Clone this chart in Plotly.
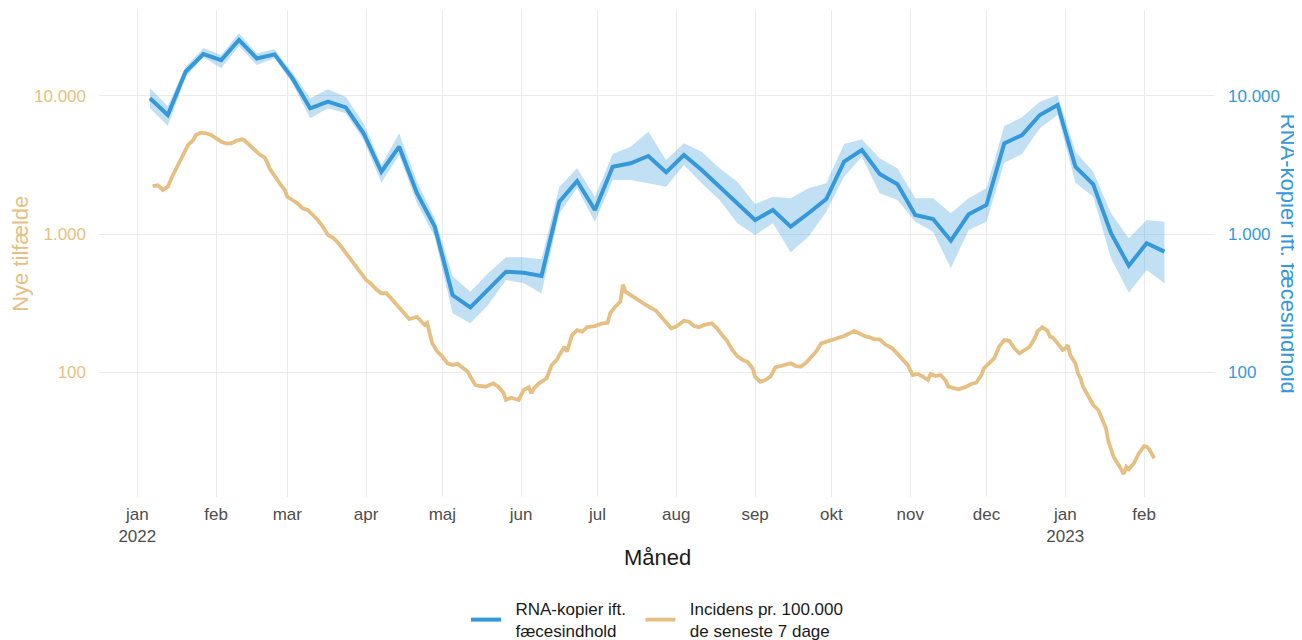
import plotly.graph_objects as go
import pandas as pd

# ---- Data: RNA copies relative to faecal content (weekly) ----
rna_start = "2022-01-06"
rna_values = [9580, 7250, 14900, 20000, 18100, 25300, 18600, 19900, 13400, 8110,
              9050, 8240, 5350, 2820, 4280, 1970, 1130, 362, 295, 398,
              534, 525, 497, 1712, 2416, 1491, 3066, 3245, 3664, 2793,
              3727, 2902, 2198, 1667, 1262, 1491, 1129, 1412, 1791, 3333,
              4050, 2716, 2288, 1372, 1283, 895, 1388, 1621, 4525, 5196,
              7250, 8570, 3066, 2288, 1012, 590, 857, 745]
rna_upper = [11310, 8425, 16210, 22010, 19700, 28270, 20260, 21650, 14670, 9580,
             11130, 9835, 6316, 3154, 5348, 2389, 1299, 497, 383, 520,
             679, 679, 656, 2198, 2987, 1860, 3789, 4278, 5492, 3429,
             4528, 3937, 2987, 2389, 1648, 1860, 1812, 2140, 2326, 4476,
             4838, 3527, 2987, 1812, 1812, 1411, 1812, 2140, 6038, 6980,
             9048, 10120, 3937, 2821, 1411, 931, 1263, 1227]
rna_lower = [8110, 6038, 13590, 18950, 15780, 22880, 16670, 18640, 12290, 6864,
             8110, 7459, 4783, 2349, 3726, 1667, 956, 267, 226, 307,
             465, 440, 373, 1411, 2140, 1227, 2458, 2458, 2326, 2198,
             3154, 2326, 1762, 1195, 984, 1195, 737, 956, 1450, 2597,
             3622, 1970, 1762, 1227, 1039, 565, 1069, 1227, 3279, 3789,
             5812, 7252, 2349, 1860, 667, 376, 549, 440]
rna_dates = pd.date_range(rna_start, periods=len(rna_values), freq="7D")

# ---- Data: incidence per 100.000 last 7 days ----
inc_dates = [
    "2022-01-07", "2022-01-09", "2022-01-10", "2022-01-11", "2022-01-13", "2022-01-14",
    "2022-01-15", "2022-01-17", "2022-01-19", "2022-01-21", "2022-01-23", "2022-01-24",
    "2022-01-26", "2022-01-28", "2022-01-30", "2022-02-01", "2022-02-03", "2022-02-05",
    "2022-02-07", "2022-02-09", "2022-02-11", "2022-02-12", "2022-02-14", "2022-02-16",
    "2022-02-18", "2022-02-20", "2022-02-21", "2022-02-22", "2022-02-24", "2022-02-26",
    "2022-02-28", "2022-03-01", "2022-03-03", "2022-03-05", "2022-03-07", "2022-03-09",
    "2022-03-11", "2022-03-13", "2022-03-15", "2022-03-17", "2022-03-19", "2022-03-20",
    "2022-03-22", "2022-03-24", "2022-03-26", "2022-03-28", "2022-03-30", "2022-04-01",
    "2022-04-03", "2022-04-05", "2022-04-07", "2022-04-09", "2022-04-10", "2022-04-12",
    "2022-04-14", "2022-04-16", "2022-04-17", "2022-04-18", "2022-04-21", "2022-04-22",
    "2022-04-24", "2022-04-25", "2022-04-26", "2022-04-27", "2022-04-29", "2022-05-01",
    "2022-05-03", "2022-05-05", "2022-05-07", "2022-05-09", "2022-05-11", "2022-05-12",
    "2022-05-14", "2022-05-16", "2022-05-18", "2022-05-21", "2022-05-23", "2022-05-25",
    "2022-05-26", "2022-05-28", "2022-05-30", "2022-05-31", "2022-06-02", "2022-06-04",
    "2022-06-05", "2022-06-06", "2022-06-08", "2022-06-11", "2022-06-13", "2022-06-15",
    "2022-06-16", "2022-06-18", "2022-06-19", "2022-06-21", "2022-06-23", "2022-06-25",
    "2022-06-27", "2022-06-30", "2022-07-03", "2022-07-05", "2022-07-06", "2022-07-08",
    "2022-07-10", "2022-07-11", "2022-07-12", "2022-07-14", "2022-07-17", "2022-07-20",
    "2022-07-24", "2022-07-26", "2022-07-28", "2022-07-30", "2022-08-01", "2022-08-04",
    "2022-08-06", "2022-08-08", "2022-08-10", "2022-08-12", "2022-08-15", "2022-08-17",
    "2022-08-19", "2022-08-21", "2022-08-23", "2022-08-25", "2022-08-27", "2022-08-29",
    "2022-08-31", "2022-09-01", "2022-09-03", "2022-09-05", "2022-09-07", "2022-09-09",
    "2022-09-11", "2022-09-13", "2022-09-15", "2022-09-17", "2022-09-19", "2022-09-21",
    "2022-09-23", "2022-09-25", "2022-09-27", "2022-09-29", "2022-10-02", "2022-10-04",
    "2022-10-06", "2022-10-08", "2022-10-10", "2022-10-12", "2022-10-14", "2022-10-16",
    "2022-10-18", "2022-10-20", "2022-10-22", "2022-10-25", "2022-10-27", "2022-10-29",
    "2022-10-31", "2022-11-02", "2022-11-04", "2022-11-06", "2022-11-08", "2022-11-09",
    "2022-11-11", "2022-11-13", "2022-11-15", "2022-11-16", "2022-11-18", "2022-11-20",
    "2022-11-23", "2022-11-25", "2022-11-27", "2022-11-29", "2022-11-30", "2022-12-02",
    "2022-12-04", "2022-12-06", "2022-12-08", "2022-12-10", "2022-12-12", "2022-12-14",
    "2022-12-16", "2022-12-18", "2022-12-20", "2022-12-21", "2022-12-23", "2022-12-25",
    "2022-12-26", "2022-12-27", "2022-12-29", "2022-12-31", "2023-01-01", "2023-01-02",
    "2023-01-03", "2023-01-05", "2023-01-06", "2023-01-07", "2023-01-08", "2023-01-10",
    "2023-01-12", "2023-01-14", "2023-01-15", "2023-01-17", "2023-01-18", "2023-01-19",
    "2023-01-20", "2023-01-22", "2023-01-24", "2023-01-25", "2023-01-26", "2023-01-28",
    "2023-01-30", "2023-02-01", "2023-02-02", "2023-02-03", "2023-02-05",
]
inc_values = [
    2223, 2250, 2178, 2081, 2198, 2458,
    2671, 3154, 3726, 4400, 4783, 5196,
    5400, 5348, 5196, 4920, 4650, 4528,
    4528, 4727, 4838, 4783, 4400, 4047,
    3768, 3586, 3333, 2987, 2597, 2326,
    2081, 1860, 1762, 1667, 1534, 1491,
    1372, 1263, 1129, 984, 940, 905,
    819, 732, 667, 597, 520, 465,
    435, 398, 373, 373, 356, 324,
    298, 267, 260, 243, 252, 239,
    220, 228, 191, 162, 141, 130,
    116, 113, 115, 107, 101, 92.9,
    80.9, 79.6, 78.7, 83.2, 78.7, 71.2,
    63.1, 65.5, 63.8, 63.1, 74.5, 77.9,
    70.5, 76.6, 83.2, 90.5, 113, 123,
    133, 153, 141, 186, 202, 197,
    212, 216, 226, 228, 267, 298,
    324, 430, 383, 362, 333, 307,
    279, 252, 226, 208, 214, 236,
    232, 216, 212, 220, 226, 208,
    186, 169, 145, 131, 123, 119,
    107, 92.9, 85.5, 88, 92.9, 108.7,
    111, 113, 116, 111, 110, 117,
    130, 141, 162, 166, 173, 179,
    183, 191, 199, 191, 183, 179,
    173, 173, 160, 149, 136, 124,
    113, 95.6, 97.2, 92.9, 88, 97.2,
    94, 95.6, 87, 78.7, 76.6, 75.4,
    78.7, 82.3, 84.1, 95.6, 107, 116,
    126, 153, 171, 169, 149, 137,
    145, 153, 176, 197, 212, 200,
    181, 179, 162, 145, 149, 157,
    133, 116, 98.4, 90.5, 78.7, 66.6,
    58, 53.4, 47.8, 39.4, 31.5, 27.4,
    24.5, 21.4, 18.4, 20.7, 19.9, 22,
    26, 29.3, 29, 27.8, 23.9,
]

month_ticks = pd.date_range("2022-01-01", "2023-02-01", freq="MS")
month_labels = ["jan<br>2022", "feb", "mar", "apr", "maj", "jun", "jul", "aug",
                "sep", "okt", "nov", "dec", "jan<br>2023", "feb"]
y_tickvals = [100, 1000, 10000]
y_ticktext = ["100", "1.000", "10.000"]

BLUE = "#3498DB"
TAN = "#E6BF83"
FONT = "Liberation Sans, Arial, sans-serif"
SP = "\u00a0\u00a0"

fig = go.Figure()

# ribbon
fig.add_trace(go.Scatter(x=rna_dates, y=rna_upper, mode="lines", line=dict(width=0),
                         showlegend=False, hoverinfo="skip", yaxis="y2"))
fig.add_trace(go.Scatter(x=rna_dates, y=rna_lower, mode="lines", line=dict(width=0),
                         fill="tonexty", fillcolor="rgba(52,152,219,0.30)",
                         showlegend=False, hoverinfo="skip", yaxis="y2"))
fig.add_trace(go.Scatter(x=rna_dates, y=rna_values, mode="lines",
                         line=dict(color=BLUE, width=4),
                         name=SP + "RNA-kopier ift." + SP + "<br>" + SP + "fæcesindhold",
                         yaxis="y2"))
fig.add_trace(go.Scatter(x=pd.to_datetime(inc_dates), y=inc_values, mode="lines",
                         line=dict(color=TAN, width=3.8),
                         name=SP + "Incidens pr. 100.000<br>" + SP + "de seneste 7 dage",
                         yaxis="y"))

yr = [1.0983, 4.6197]
fig.update_layout(
    width=1294, height=632,
    margin=dict(l=91, r=87, t=2, b=143, autoexpand=False),
    plot_bgcolor="white", paper_bgcolor="white",
    font=dict(family=FONT, size=17, color="#4d4d4d"),
    xaxis=dict(
        type="date", automargin=False,
        range=["2021-12-16 22:30", "2023-02-28 21:30"],
        tickvals=month_ticks, ticktext=month_labels,
        showgrid=True, gridcolor="#EBEBEB", gridwidth=1,
        zeroline=False, showline=False, ticks="",
        ticklabelstandoff=5,
        tickfont=dict(family=FONT, size=17, color="#4d4d4d"),
    ),
    yaxis=dict(
        type="log", range=yr, automargin=False,
        tickvals=y_tickvals, ticktext=y_ticktext,
        showgrid=True, gridcolor="#EBEBEB", gridwidth=1,
        zeroline=False, showline=False, ticks="",
        ticklabelstandoff=12,
        tickfont=dict(family=FONT, size=17, color=TAN),
    ),
    yaxis2=dict(
        type="log", range=yr, overlaying="y", side="right", automargin=False,
        tickvals=y_tickvals, ticktext=y_ticktext,
        showgrid=False, zeroline=False, showline=False, ticks="",
        ticklabelstandoff=12,
        tickfont=dict(family=FONT, size=17, color=BLUE),
    ),
    legend=dict(orientation="h", x=0.5, xanchor="center",
                yref="container", y=0.0775, yanchor="top",
                font=dict(family=FONT, size=17, color="#1a1a1a"),
                traceorder="normal", itemwidth=30),
    showlegend=True,
    annotations=[
        dict(text="Nye tilfælde", xref="paper", yref="paper", x=-0.0705, y=0.5,
             xanchor="center", yanchor="middle", textangle=-90, showarrow=False,
             font=dict(family=FONT, size=22, color=TAN)),
        dict(text="RNA-kopier ift. fæcesindhold", xref="paper", yref="paper", x=1.066, y=0.5,
             xanchor="center", yanchor="middle", textangle=90, showarrow=False,
             font=dict(family=FONT, size=22, color=BLUE)),
        dict(text="Måned", xref="paper", yref="paper", x=0.5, y=-0.125,
             xanchor="center", yanchor="middle", showarrow=False,
             font=dict(family=FONT, size=22, color="#1a1a1a")),
    ],
)

fig.write_html("out.html")
